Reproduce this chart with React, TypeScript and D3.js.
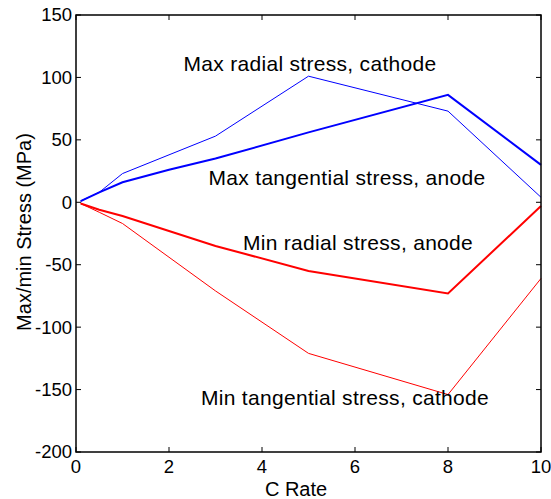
import React from "react";
import * as d3 from "d3";

// C-rate sample points shared by all four curves
const cRates = [0.1, 0.5, 1, 2, 3, 5, 8, 10];

// Peak stresses (MPa) at each C rate
const maxRadialCathode = [1, 8, 23, 38, 53, 101, 73, 4];
const maxTangentialAnode = [1, 8, 16, 26, 35, 56, 86, 30];
const minRadialAnode = [-1, -6, -11, -23, -35, -55, -73, -3];
const minTangentialCathode = [-1, -8, -17, -44, -71, -121, -154, -61];

const xTicks = [0, 2, 4, 6, 8, 10];
const yTicks = [-200, -150, -100, -50, 0, 50, 100, 150];

const seriesList = [
  { name: "maxRadialCathode", values: maxRadialCathode, color: "#0000ff", width: 1 },
  { name: "maxTangentialAnode", values: maxTangentialAnode, color: "#0000ff", width: 2 },
  { name: "minRadialAnode", values: minRadialAnode, color: "#ff0000", width: 2 },
  { name: "minTangentialCathode", values: minTangentialCathode, color: "#ff0000", width: 1 },
];

const annotations = [
  { text: "Max radial stress, cathode", x: 310, y: 71 },
  { text: "Max tangential stress, anode", x: 347, y: 185 },
  { text: "Min radial stress, anode", x: 358, y: 250 },
  { text: "Min tangential stress, cathode", x: 345, y: 405 },
];

const W = 551;
const H = 499;
const left = 76;
const right = 541;
const top = 15;
const bottom = 452;
const font = "'Liberation Sans', Arial, sans-serif";

export default function App() {
  const x = d3.scaleLinear().domain([0, 10]).range([left, right]);
  const y = d3.scaleLinear().domain([-200, 150]).range([bottom, top]);
  const line = d3
    .line<number>()
    .x((_, i) => x(cRates[i]))
    .y((v) => y(v));
  const tick = 5;

  return (
    <svg
      width={W}
      height={H}
      style={{ position: "absolute", left: 0, top: 0, background: "#fff" }}
      fontFamily={font}
    >
      <rect x={0} y={0} width={W} height={H} fill="#fff" />
      {seriesList.map((s) => (
        <path
          key={s.name}
          d={line(s.values) || ""}
          fill="none"
          stroke={s.color}
          strokeWidth={s.width}
          strokeLinejoin="miter"
        />
      ))}
      <rect
        x={left}
        y={top}
        width={right - left}
        height={bottom - top}
        fill="none"
        stroke="#000"
        strokeWidth={1.5}
      />
      {xTicks.map((t) => (
        <g key={"x" + t}>
          <line x1={x(t)} x2={x(t)} y1={bottom} y2={bottom - tick} stroke="#000" />
          <line x1={x(t)} x2={x(t)} y1={top} y2={top + tick} stroke="#000" />
          <text x={x(t)} y={473} fontSize={18.5} textAnchor="middle" fill="#000">
            {t}
          </text>
        </g>
      ))}
      {yTicks.map((t) => (
        <g key={"y" + t}>
          <line x1={left} x2={left + tick} y1={y(t)} y2={y(t)} stroke="#000" />
          <line x1={right} x2={right - tick} y1={y(t)} y2={y(t)} stroke="#000" />
          <text
            x={left - 4}
            y={y(t)}
            dy="0.35em"
            fontSize={18.5}
            textAnchor="end"
            fill="#000"
          >
            {t}
          </text>
        </g>
      ))}
      <text x={296} y={496} fontSize={20} textAnchor="middle" fill="#000">
        C Rate
      </text>
      <text
        transform={`translate(31, 232) rotate(-90)`}
        fontSize={20}
        textAnchor="middle"
        fill="#000"
      >
        Max/min Stress (MPa)
      </text>
      {annotations.map((a) => (
        <text
          key={a.text}
          x={a.x}
          y={a.y}
          fontSize={21}
          letterSpacing={0.3}
          textAnchor="middle"
          fill="#000"
        >
          {a.text}
        </text>
      ))}
    </svg>
  );
}
